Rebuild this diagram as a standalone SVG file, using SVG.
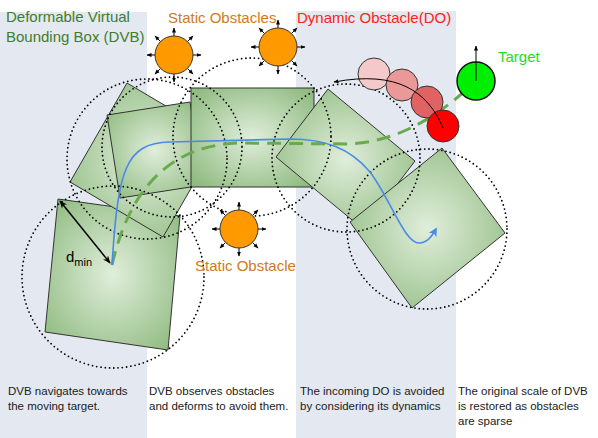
<svg xmlns="http://www.w3.org/2000/svg" xmlns:xlink="http://www.w3.org/1999/xlink" width="598" height="438" viewBox="0 0 598 438">
<style>
.panel{fill:#e4e9f1}
.sq{fill:url(#sqg);stroke:#333;stroke-width:1}
.dot{fill:none;stroke:#000;stroke-width:1.8;stroke-linecap:round;stroke-dasharray:0 4.3}
.hd{font-family:"Liberation Sans",Arial,sans-serif;font-size:15px}
.cap{font-family:"Liberation Sans",Arial,sans-serif;font-size:11.5px;fill:#1a1a1a}
.sob{fill:#ff9900;stroke:#333;stroke-width:1}
.sar{stroke:#000;stroke-width:1;marker-end:url(#ah)}
.do{stroke:#333;stroke-width:1}
</style>
<defs>
<radialGradient id="sqg" cx="50%" cy="50%" r="65%">
<stop offset="0" stop-color="#e0eedb"/>
<stop offset="1" stop-color="#90bb81"/>
</radialGradient>
<marker id="ah" viewBox="0 0 10 10" refX="9" refY="5" markerWidth="5" markerHeight="5" orient="auto-start-reverse" markerUnits="userSpaceOnUse">
<path d="M0,1 L10,5 L0,9 z" fill="#000"/>
</marker>
<marker id="ahb" viewBox="0 0 10 10" refX="9" refY="5" markerWidth="8" markerHeight="8" orient="auto-start-reverse" markerUnits="userSpaceOnUse">
<path d="M0,1 L10,5 L0,9 L3,5 z" fill="#000"/>
</marker>
<marker id="ahblue" viewBox="0 0 10 10" refX="8" refY="5" markerWidth="9" markerHeight="9" orient="auto" markerUnits="userSpaceOnUse">
<path d="M0,0 L10,5 L0,10 L3,5 z" fill="#4a8ae8"/>
</marker>
<g id="sobShape">
<line class="sar" x1="19" y1="0" x2="27" y2="0"/>
<line class="sar" x1="-19" y1="0" x2="-27" y2="0"/>
<line class="sar" x1="0" y1="19" x2="0" y2="27"/>
<line class="sar" x1="0" y1="-19" x2="0" y2="-27"/>
<line class="sar" x1="13.4" y1="13.4" x2="19.1" y2="19.1"/>
<line class="sar" x1="-13.4" y1="13.4" x2="-19.1" y2="19.1"/>
<line class="sar" x1="13.4" y1="-13.4" x2="19.1" y2="-19.1"/>
<line class="sar" x1="-13.4" y1="-13.4" x2="-19.1" y2="-19.1"/>
<circle class="sob" cx="0" cy="0" r="19"/>
</g>
</defs>
<rect width="598" height="438" fill="#fff"/>
<rect class="panel" x="0" y="12" width="147" height="426"/>
<rect class="panel" x="296" y="11" width="160" height="427"/>

<g id="dvb1"><polygon class="sq" points="58,199 180,216 168,350 45,332"/></g>
<g id="dvb2"><polygon class="sq" points="127,83 220,138 163,237 70,182"/></g>
<g id="dvb3"><polygon class="sq" points="107,115 190,102 203,185 120,198"/></g>
<g id="dvb4"><rect class="sq" x="191" y="88" width="123" height="99"/></g>
<g id="dvb5"><polygon class="sq" points="328,89 415,161 363,229 276,157"/></g>
<g id="dvb6"><polygon class="sq" points="442,148 505,233 412,308 350,222"/></g>

<g id="bounds">
<circle class="dot" cx="113" cy="277" r="91"/>
<circle class="dot" cx="147" cy="159" r="80"/>
<circle class="dot" cx="172" cy="147" r="70"/>
<circle class="dot" cx="252" cy="137" r="79"/>
<circle class="dot" cx="346" cy="158" r="74"/>
<circle class="dot" cx="427" cy="229" r="80"/>
</g>

<g id="connectors">
<path d="M112,265 C128,195 165,145 240,143 L350,144 C400,141 440,115 476,81" fill="none" stroke="#6aaa4f" stroke-width="3" stroke-dasharray="14 8"/>
<path d="M112,265 C118,170 125,143 170,142 L290,139 C325,139 350,148 370,172 C390,198 405,245 420,243 C428,242 432,236 436,229" fill="none" stroke="#4a8ae8" stroke-width="1.6" marker-end="url(#ahblue)"/>
<line x1="110" y1="263" x2="60" y2="201" stroke="#000" stroke-width="1.5" marker-start="url(#ahb)" marker-end="url(#ahb)"/>
</g>

<g id="static1"><use xlink:href="#sobShape" transform="translate(174,55)"/></g>
<g id="static2"><use xlink:href="#sobShape" transform="translate(278,47)"/></g>
<g id="static3"><use xlink:href="#sobShape" transform="translate(239,229)"/></g>

<g id="dynamic">
<circle class="do" cx="374" cy="74" r="16" fill="#f4c9c9"/>
<circle class="do" cx="402" cy="85" r="16" fill="#ea9898"/>
<circle class="do" cx="427" cy="102" r="16" fill="#e06363"/>
<circle class="do" cx="443" cy="126" r="16" fill="#ff0000"/>
<path d="M443,128 C428,92 398,70 334,82" fill="none" stroke="#000" stroke-width="1" marker-end="url(#ah)"/>
</g>

<g id="target">
<circle cx="476" cy="81" r="19" fill="#00ee00" stroke="#111" stroke-width="1.5"/>
<line x1="476" y1="81" x2="476" y2="46" stroke="#000" stroke-width="1" marker-end="url(#ah)"/>
</g>

<g id="labels">
<text class="hd" x="6" y="22" fill="#3f7d2b">Deformable Virtual</text>
<text class="hd" x="6" y="42" fill="#3f7d2b">Bounding Box (DVB)</text>
<text class="hd" x="168" y="23" fill="#d07a20">Static Obstacles</text>
<text class="hd" x="297" y="23" fill="#ff2020">Dynamic Obstacle(DO)</text>
<text class="hd" x="498" y="62" fill="#22dd22">Target</text>
<text class="hd" x="195" y="271" fill="#d07a20">Static Obstacle</text>
<text class="hd" x="66" y="262" fill="#000">d<tspan font-size="11" dy="4">min</tspan></text>
<text class="cap" x="8" y="395">DVB navigates towards</text>
<text class="cap" x="8" y="410">the moving target.</text>
<text class="cap" x="149" y="395">DVB observes obstacles</text>
<text class="cap" x="149" y="410">and deforms to avoid them.</text>
<text class="cap" x="300" y="395">The incoming DO is avoided</text>
<text class="cap" x="300" y="410">by considering its dynamics</text>
<text class="cap" x="458" y="395">The original scale of DVB</text>
<text class="cap" x="458" y="410">is restored as obstacles</text>
<text class="cap" x="458" y="425">are sparse</text>
</g>
</svg>
